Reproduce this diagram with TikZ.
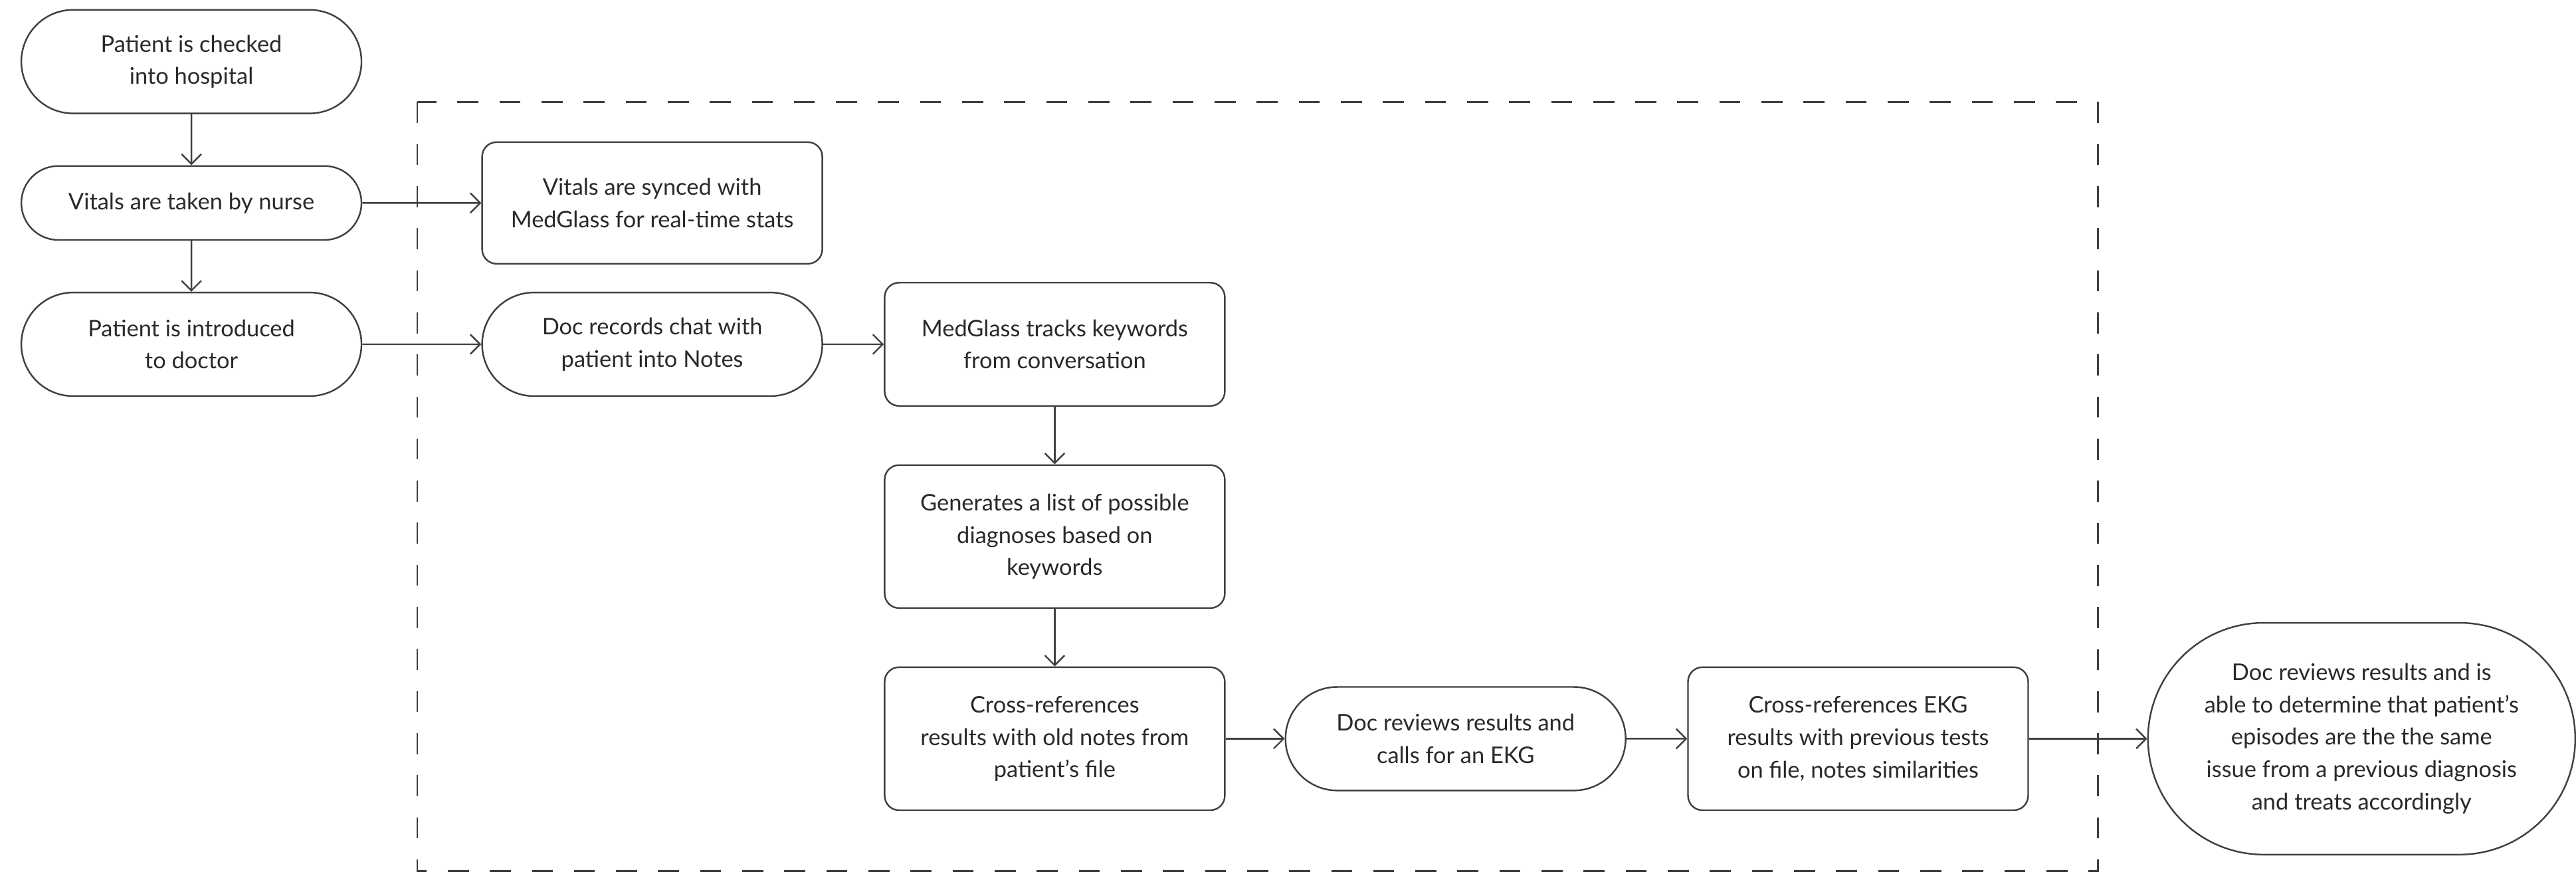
\documentclass[tikz,border=0pt]{standalone}
\usepackage{fontspec}
\setmainfont{Lato}
\usetikzlibrary{arrows.meta,shapes.misc}
\definecolor{LineClr}{rgb}{0.25,0.25,0.25}
\definecolor{TextClr}{rgb}{0.16,0.16,0.16}

\begin{document}
\begin{tikzpicture}[x=0.025cm,y=-0.025cm,
  box/.style={draw=LineClr,line width=0.7pt,text=TextClr,align=center,inner sep=0pt,
    minimum width=5.175cm,font=\fontsize{9.9}{14}\selectfont},
  pill/.style={box,rounded rectangle},
  card/.style={box,rounded corners=0.22cm},
  flow/.style={draw=LineClr,line width=0.7pt,-{Straight Barb[length=0.15cm,width=0.3cm]}}]
\useasboundingbox (0,0) rectangle (1568,534);

% dashed frame
\draw[LineClr,line width=0.7pt,dash pattern=on 0.32cm off 0.32cm] (254,62) rectangle (1277,530);

% left column
\node[pill,minimum height=1.575cm] (A) at (116.5,37.5) {Patient is checked\\into hospital};
\node[pill,minimum height=1.125cm] (B) at (116.5,123.5) {Vitals are taken by nurse};
\node[pill,minimum height=1.575cm] (C) at (116.5,209.5) {Patient is introduced\\to doctor};

% inside the frame
\node[card,minimum height=1.85cm] (D) at (397,123.5) {Vitals are synced with\\MedGlass for real-time stats};
\node[pill,minimum height=1.575cm] (E) at (397,209.5) {Doc records chat with\\patient into Notes};
\node[card,minimum height=1.875cm] (F) at (642,209.5) {MedGlass tracks keywords\\from conversation};
\node[card,minimum height=2.175cm] (G) at (642,326.5) {Generates a list of possible\\diagnoses based on\\keywords};
\node[card,minimum height=2.175cm] (H) at (642,449.5) {Cross-references\\results with old notes from\\patient’s file};
\node[pill,minimum height=1.575cm] (I) at (886,449.5) {Doc reviews results and\\calls for an EKG};
\node[card,minimum height=2.175cm] (J) at (1131,449.5) {Cross-references EKG\\results with previous tests\\on file, notes similarities};

% outcome
\node[pill,minimum width=6.5cm,minimum height=3.525cm] (K) at (1437.5,449.5)
  {Doc reviews results and is\\able to determine that patient’s\\episodes are the the same\\issue from a previous diagnosis\\and treats accordingly};

\draw[flow] (A) -- (B);
\draw[flow] (B) -- (C);
\draw[flow] (B) -- (D);
\draw[flow] (C) -- (E);
\draw[flow] (E) -- (F);
\draw[flow] (F) -- (G);
\draw[flow] (G) -- (H);
\draw[flow] (H) -- (I);
\draw[flow] (I) -- (J);
\draw[flow] (J) -- (K);

\end{tikzpicture}
\end{document}
